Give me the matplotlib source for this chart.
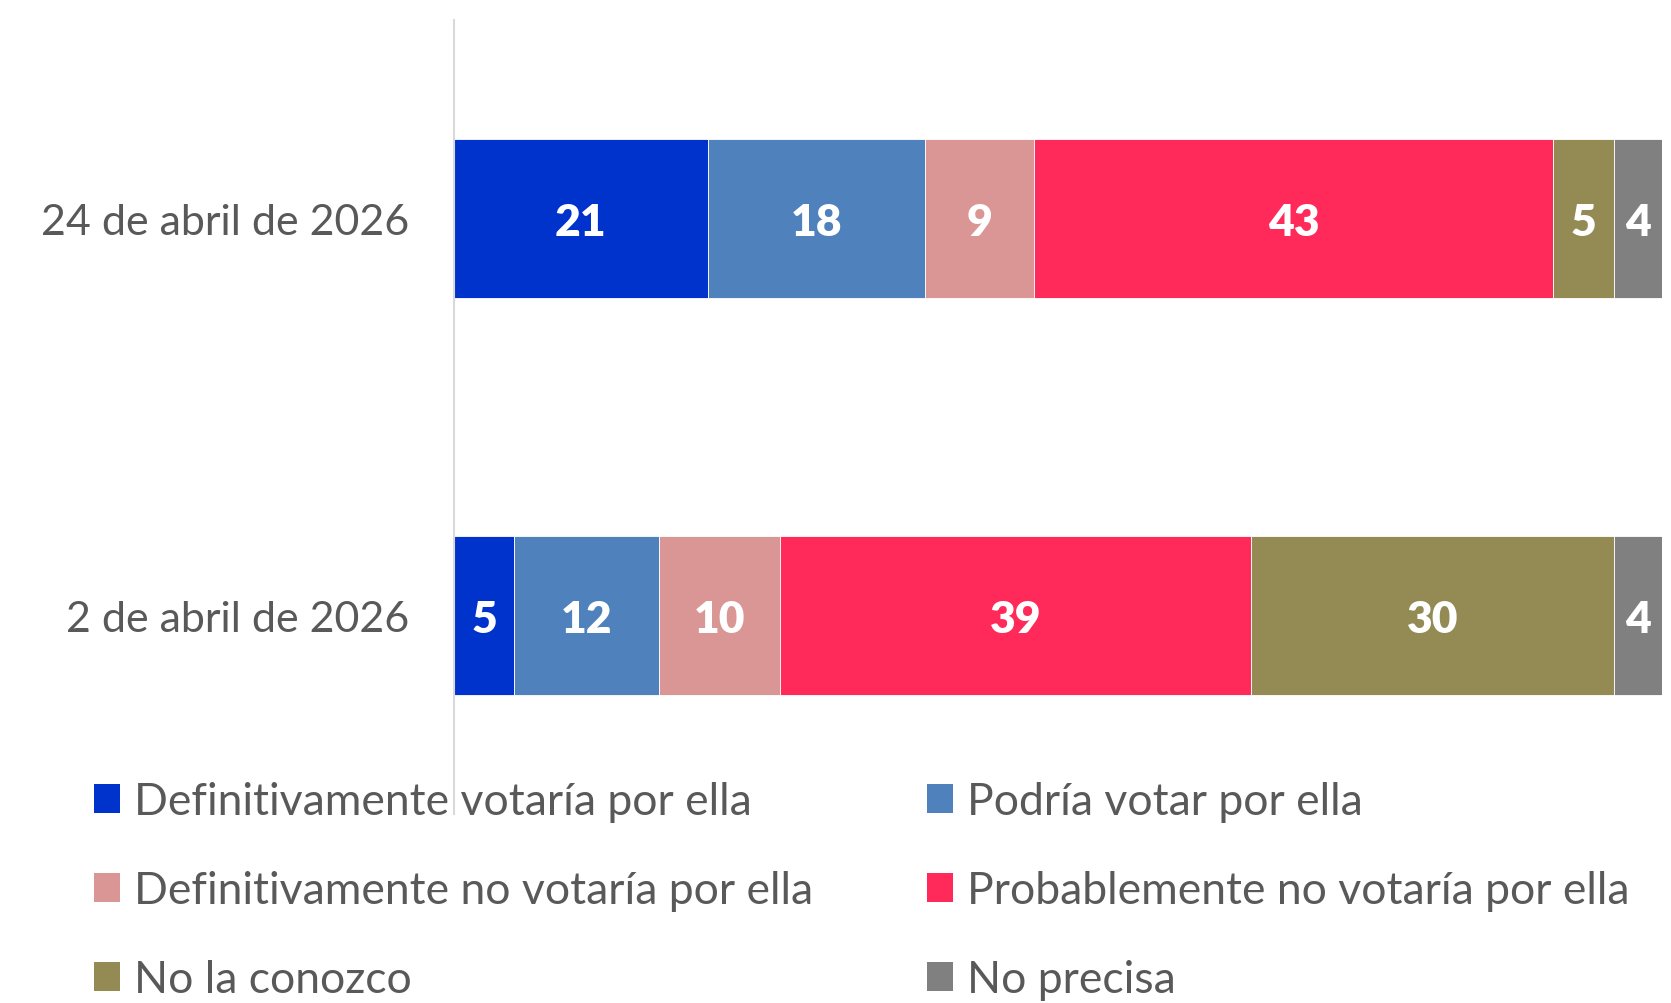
import matplotlib
matplotlib.use("Agg")
import matplotlib.pyplot as plt
from matplotlib.patches import Patch

plt.rcParams['font.family'] = ['Lato', 'DejaVu Sans']

categories = ["2 de abril de 2026", "24 de abril de 2026"]
series_names = ["Definitivamente votaría por ella", "Podría votar por ella",
                "Definitivamente no votaría por ella", "Probablemente no votaría por ella",
                "No la conozco", "No precisa"]
values = {
    "Definitivamente votaría por ella": [5, 21],
    "Podría votar por ella": [12, 18],
    "Definitivamente no votaría por ella": [10, 9],
    "Probablemente no votaría por ella": [39, 43],
    "No la conozco": [30, 5],
    "No precisa": [4, 4],
}
colors = ["#0033CC", "#4F81BD", "#D99694", "#FF2A5A", "#948A54", "#808080"]
text_color = "#595959"

fig = plt.figure(figsize=(16.71, 10.04), dpi=100)
ax = fig.add_axes([454/1671, 189/1004, 1208/1671, 794/1004])

ypos = list(range(len(categories)))
left = [0] * len(categories)
for name, col in zip(series_names, colors):
    vals = values[name]
    ax.barh(ypos, vals, left=left, height=0.4, color=col, edgecolor='white', linewidth=0.6)
    for y, v, l in zip(ypos, vals, left):
        ax.text(l + v / 2, y, str(v), ha='center', va='center_baseline', color='white',
                fontsize=32, fontweight='heavy')
    left = [a + b for a, b in zip(left, vals)]

ax.set_xlim(0, 100)
ax.set_ylim(-0.5, 1.5)
ax.set_yticks(ypos)
ax.set_yticklabels(categories, fontsize=31, color=text_color)
ax.tick_params(axis='y', length=0, pad=32)
ax.set_xticks([])
for s in ['top', 'right', 'bottom']:
    ax.spines[s].set_visible(False)
ax.spines['left'].set_color('#D9D9D9')
ax.spines['left'].set_linewidth(1.5)

handles = [Patch(facecolor=c, edgecolor='none') for c in colors]
col1 = [0, 2, 4]
col2 = [1, 3, 5]
for idx, xpos in ((col1, 94/1671), (col2, 927/1671)):
    fig.legend([handles[i] for i in idx], [series_names[i] for i in idx],
               loc='upper left', bbox_to_anchor=(xpos, 1 - 782/1004),
               frameon=False, fontsize=32, labelcolor=text_color,
               handlelength=0.58, handleheight=0.62, handletextpad=0.33,
               labelspacing=1.08, borderpad=0, borderaxespad=0)

fig.savefig("out.png", dpi=100)
